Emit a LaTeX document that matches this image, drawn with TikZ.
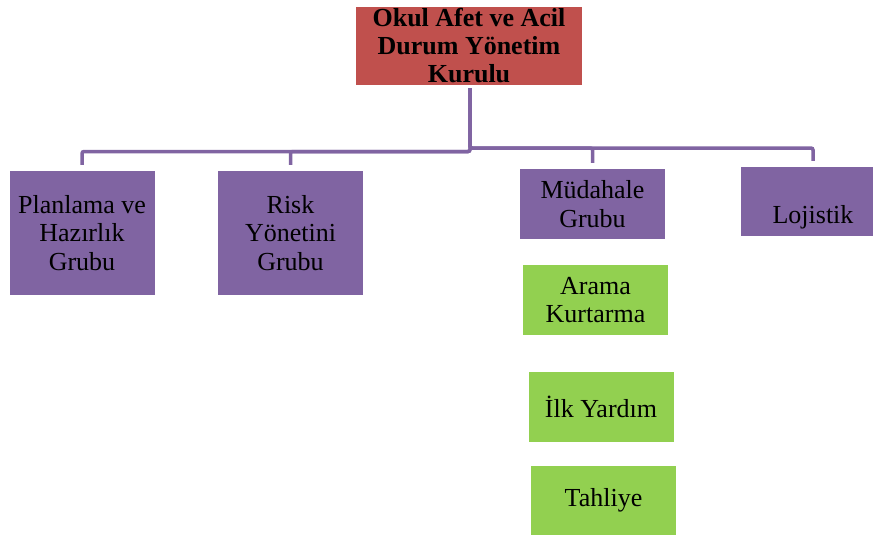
\documentclass[tikz,border=0pt]{standalone}
\usepackage{fontspec}
\setmainfont{Liberation Serif}
\definecolor{kurulred}{RGB}{192, 80, 77}
\definecolor{grupmor}{RGB}{128, 100, 162}
\definecolor{altyesil}{RGB}{146, 208, 80}
\usetikzlibrary{positioning}

\begin{document}
\begin{tikzpicture}[x=1pt, y=-1pt,
  grp/.style={fill=grupmor, minimum width=145pt, inner sep=0pt, align=center,
              font=\fontsize{26}{28.5}\selectfont},
  alt/.style={fill=altyesil, minimum width=145pt, minimum height=70pt, inner sep=0pt,
              align=center, font=\fontsize{26}{28}\selectfont},
  bag/.style={draw=grupmor, line width=3.5pt, rounded corners=2pt,
              shorten <=3pt, shorten >=6pt},
]
\clip (0, 0) rectangle (873, 535);

% Kurul
\node[fill=kurulred, minimum width=226pt, minimum height=78pt, inner sep=0pt, align=center,
      font=\fontsize{26}{28}\selectfont\bfseries] (kurul) at (469, 46)
{Okul Afet ve Acil\\Durum Yönetim\\Kurulu};

% Gruplar
\node[grp, minimum height=124pt] (plan) at (82, 233) {Planlama ve\\Hazırlık\\Grubu};
\node[grp, minimum height=124pt] (risk) at (290.5, 233) {Risk\\Yönetini\\Grubu};
\node[grp, minimum height=70pt] (mud) at (592.5, 204) {Müdahale\\Grubu};
\node[grp, minimum height=69pt, text height=46pt, text depth=3pt] (loj) at (813, 201.5) {Lojistik};

% Müdahale alt birimleri
\node[alt] (arama) at (595.5, 300) {Arama\\Kurtarma};
\node[alt] (ilk) at (601, 407) {İlk Yardım};
\node[alt] (tah) at (603.5, 500.5) {Tahliye};

% Baglantilar
\coordinate (solbag) at (470, 151.5);
\coordinate (sagbag) at (470, 148);
\draw[bag] (kurul.south -| solbag) -- (solbag) -| (plan);
\draw[bag] (kurul.south -| solbag) -- (solbag) -| (risk);
\draw[bag] (kurul.south -| sagbag) -- (sagbag) -| (mud);
\draw[bag] (kurul.south -| sagbag) -- (sagbag) -| (loj);
\end{tikzpicture}
\end{document}
